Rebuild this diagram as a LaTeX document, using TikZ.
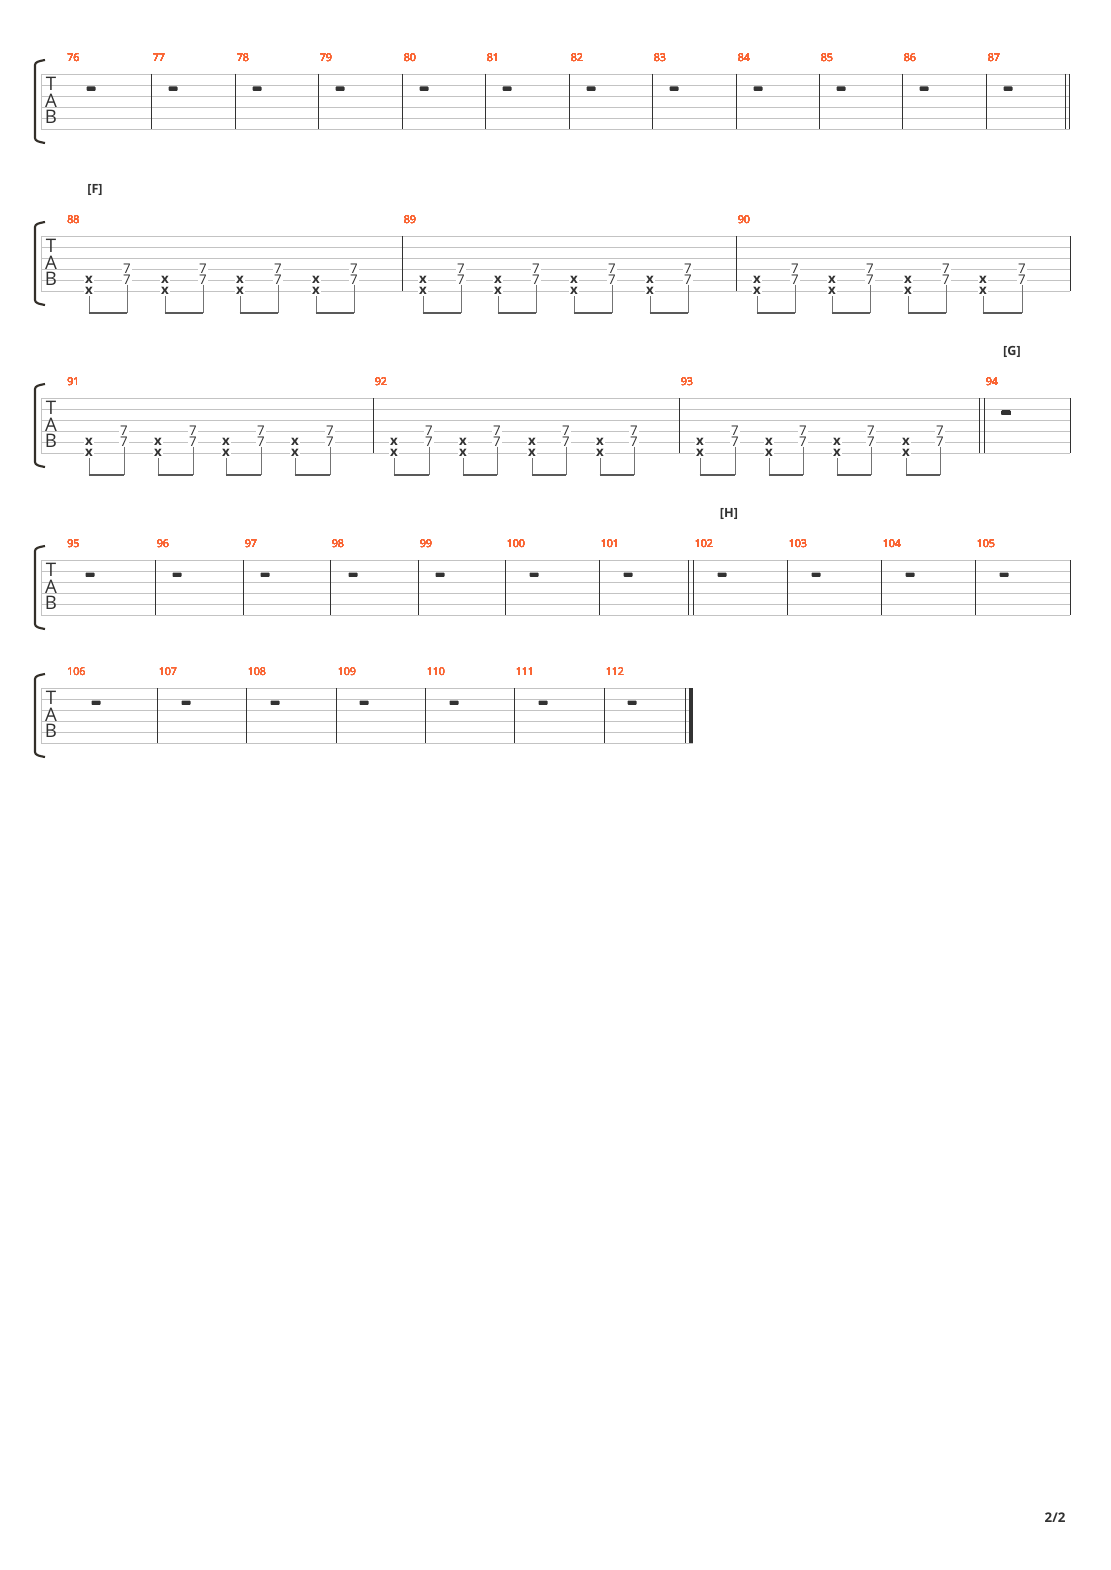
\documentclass[tikz,border=0pt]{standalone}
\usepackage{fontspec}
\setmainfont{Open Sans}
\usetikzlibrary{positioning}

\definecolor{numred}{RGB}{250,100,50}
\definecolor{ink}{RGB}{50,50,50}
\definecolor{linegrey}{RGB}{195,195,195}

\tikzset{
  staffline/.style={draw=linegrey,line width=0.7pt},
  barline/.style={draw=ink,line width=0.65pt},
  clefbrace/.style={draw=black!85!olive,line width=1.6pt},
  tabletter/.style={text=ink,font=\fontsize{14}{14}\selectfont,inner sep=0pt},
  barnum/.style={text=numred,font=\fontsize{8}{8}\selectfont,anchor=west,inner sep=0pt},
  section/.style={text=ink,font=\bfseries\fontsize{9.5}{10}\selectfont,inner sep=0pt},
  fret/.style={text=ink,font=\fontsize{10}{10}\selectfont,fill=white,inner sep=0.6pt},
  stem/.style={draw=black!55,line width=0.7pt},
  beam/.style={draw=black!65,line width=2pt},
}

% staff of six strings with clef and brace: top y, right end x
\newcommand{\tabsys}[2]{%
  \foreach \s in {0,...,5}
    \draw[staffline] (41,#1+11*\s) -- (#2,#1+11*\s);
  \draw[staffline] (41,#1) -- (41,#1+55);
  \draw[clefbrace] (45,#1-14) .. controls (39,#1-13) and (35,#1-12) .. (35,#1-9)
    -- (35,#1+64) .. controls (35,#1+67) and (39,#1+68) .. (45,#1+69);
  \node[tabletter] (T#1) at (51,#1+10) {T};
  \node[tabletter] (A#1) at (51,#1+26.5) {A};
  \node[tabletter] (B#1) at (51,#1+42.5) {B};
}
% rest: x, top y
\newcommand{\tabrest}[2]{%
  \fill[ink,rounded corners=0.6pt] (#1-4.5,#2+12.5) rectangle (#1+4.5,#2+16.8);
}
% muted pair and fretted pair, beamed: x muted, x fretted, top y
\newcommand{\mutedbeat}[3]{%
  \node[fret,font=\bfseries\fontsize{10}{10}\selectfont] (xa#1) at (#1,#3+43.5) {x};
  \node[fret,font=\bfseries\fontsize{10}{10}\selectfont] (xb#1) at (#1,#3+54.5) {x};
  \node[fret] (sa#2) at (#2,#3+33) {7};
  \node[fret] (sb#2) at (#2,#3+44) {7};
  \draw[stem] (#1,#3+60) -- (#1,#3+77);
  \draw[stem] (#2,#3+48.5) -- (#2,#3+77);
  \draw[beam] (#1-0.35,#3+77) -- (#2+0.35,#3+77);
}

\begin{document}
\begin{tikzpicture}[x=0.75pt,y=-0.75pt]
  \useasboundingbox[fill=white] (0,0) rectangle (1110,1570);

  % system 1
  \tabsys{74}{1070}
  \foreach \b in {151,235,318,402,485,569,652,736,819,902,986,1065,1069.5}
    \draw[barline] (\b,74) -- (\b,129);
  \foreach \r in {91,173,257,340,424,507,591,674,758,841,924,1008}
    \tabrest{\r}{74}
  \foreach \n/\x in {76/67,77/152.5,78/236.5,79/319.5,80/403.5,81/486.5,
      82/570.5,83/653.5,84/737.5,85/820.5,86/903.5,87/987.5}
    \node[barnum] (m\n) at (\x,58) {\n};

  % system 2
  \node[section] (secF) at (95,190) {[F]};
  \tabsys{236}{1070}
  \foreach \b in {402,736,1070}
    \draw[barline] (\b,236) -- (\b,291);
  \foreach \x/\y in {89/127,165/203,240/278,316/354,
      423/461,498/536,574/612,650/688,
      757/795,832/870,908/946,983/1022}
    \mutedbeat{\x}{\y}{236}
  \foreach \n/\x in {88/67,89/403.5,90/737.5}
    \node[barnum] (m\n) at (\x,220) {\n};

  % system 3
  \node[section] (secG) at (1012,352) {[G]};
  \tabsys{398}{1070}
  \foreach \b in {373,679,979,984,1070}
    \draw[barline] (\b,398) -- (\b,453);
  \foreach \x/\y in {89/124,158/193,226/261,295/330,
      394/429,463/497,532/566,600/634,
      700/735,769/803,837/871,906/940}
    \mutedbeat{\x}{\y}{398}
  \tabrest{1006}{398}
  \foreach \n/\x in {91/67,92/374.5,93/680.5,94/985.5}
    \node[barnum] (m\n) at (\x,382) {\n};

  % system 4
  \node[section] (secH) at (729,514) {[H]};
  \tabsys{560}{1070}
  \foreach \b in {155,243,330,418,505,599,688,693,787,881,975,1070}
    \draw[barline] (\b,560) -- (\b,615);
  \foreach \r in {90,177,265,353,440,534,628,722,816,910,1004}
    \tabrest{\r}{560}
  \foreach \n/\x in {95/67,96/156.5,97/244.5,98/331.5,99/419.5,100/506.5,
      101/600.5,102/694.5,103/788.5,104/882.5,105/976.5}
    \node[barnum] (m\n) at (\x,544) {\n};

  % system 5
  \tabsys{688}{693}
  \foreach \b in {157,246,336,425,514,604,685.3}
    \draw[barline] (\b,688) -- (\b,743);
  \fill[ink] (689,688) rectangle (693,743);
  \foreach \r in {96,186,275,364,454,543,632}
    \tabrest{\r}{688}
  \foreach \n/\x in {106/67,107/158.5,108/247.5,109/337.5,110/426.5,
      111/515.5,112/605.5}
    \node[barnum] (m\n) at (\x,672) {\n};

  \node[text=ink,font=\bfseries\fontsize{10}{10}\selectfont] (page) at (1055,1518) {2/2};
\end{tikzpicture}
\end{document}
